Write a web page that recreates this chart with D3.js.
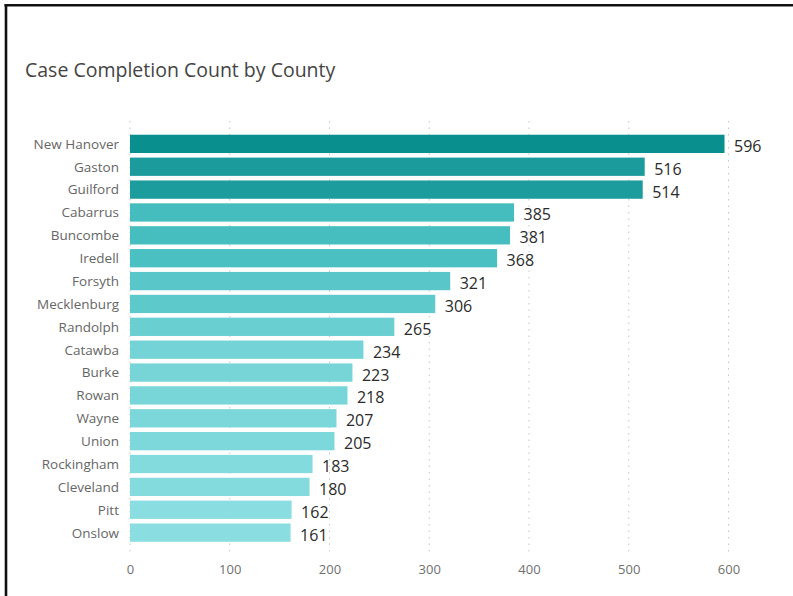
<!DOCTYPE html>
<html>
<head>
<meta charset="utf-8">
<script src="https://cdn.jsdelivr.net/npm/d3@7/dist/d3.min.js"></script>
<style>
  html, body { margin: 0; padding: 0; background: #fff; }
  svg { display: block; }
</style>
</head>
<body>
<svg id="chart" width="793" height="596"></svg>
<script>
// Completed cases per county, sorted largest first
const counties = ["New Hanover", "Gaston", "Guilford", "Cabarrus", "Buncombe", "Iredell",
  "Forsyth", "Mecklenburg", "Randolph", "Catawba", "Burke", "Rowan", "Wayne", "Union",
  "Rockingham", "Cleveland", "Pitt", "Onslow"];
const counts = [596, 516, 514, 385, 381, 368, 321, 306, 265, 234, 223, 218, 207, 205, 183, 180, 162, 161];
const xTicks = [0, 100, 200, 300, 400, 500, 600];

const data = counties.map((c, i) => ({ county: c, count: counts[i] }));

const svg = d3.select("#chart");
const font = "'Segoe UI', 'Open Sans', 'Noto Sans', sans-serif";

// Frame: heavy rule along the top and left edges
svg.append("line").attr("x1", 4.5).attr("x2", 793).attr("y1", 5.3).attr("y2", 5.3)
  .attr("stroke", "#111").attr("stroke-width", 2.6);
svg.append("line").attr("x1", 6).attr("x2", 6).attr("y1", 4).attr("y2", 596)
  .attr("stroke", "#111").attr("stroke-width", 2.6);

// Title
svg.append("text")
  .attr("x", 25).attr("y", 77)
  .attr("font-family", font).attr("font-size", 19.5)
  .attr("fill", "#444")
  .text("Case Completion Count by County");

// Scales
const x = d3.scaleLinear().domain([0, 600]).range([130, 728.5]);
const y = d3.scaleBand().domain(counties).range([121, 555.5])
  .paddingInner(0.2).paddingOuter(0.6);

// Saturation ramp: light for small counts, deep teal for the largest
const color = d3.scaleLinear()
  .domain([161, 385, 516, 596])
  .range(["#8adee1", "#45bdbf", "#1b9b9b", "#0a8f8f"]);

// Dotted vertical gridlines
svg.append("g")
  .selectAll("line")
  .data(xTicks)
  .join("line")
  .attr("x1", d => x(d)).attr("x2", d => x(d))
  .attr("y1", y.range()[0]).attr("y2", y.range()[1])
  .attr("stroke", "#c6c6c6")
  .attr("stroke-width", 1)
  .attr("stroke-dasharray", "1.5,5");

// X axis labels
const xAxis = d3.axisBottom(x).tickValues(xTicks).tickSize(0).tickPadding(0);
const gx = svg.append("g").attr("transform", "translate(0,562)").call(xAxis);
gx.select(".domain").remove();
gx.selectAll("text")
  .attr("font-family", font).attr("font-size", 13)
  .attr("fill", "#707070")
  .attr("dy", "0.95em");

// Y axis category labels
const yAxis = d3.axisLeft(y).tickSize(0).tickPadding(0);
const gy = svg.append("g").attr("transform", "translate(119,0)").call(yAxis);
gy.select(".domain").remove();
gy.selectAll("text")
  .attr("font-family", font).attr("font-size", 13.5)
  .attr("fill", "#666")
  .attr("dy", "0.36em");

// Bars
svg.append("g")
  .selectAll("rect")
  .data(data)
  .join("rect")
  .attr("x", x(0))
  .attr("y", d => y(d.county))
  .attr("width", d => x(d.count) - x(0))
  .attr("height", y.bandwidth())
  .attr("fill", d => color(d.count));

// Value labels at the end of each bar
svg.append("g")
  .selectAll("text")
  .data(data)
  .join("text")
  .attr("x", d => x(d.count) + 9.5)
  .attr("y", d => y(d.county) + y.bandwidth() / 2 + 8)
  .attr("font-family", font).attr("font-size", 16)
  .attr("fill", "#2b2b2b")
  .text(d => d.count);
</script>
</body>
</html>
